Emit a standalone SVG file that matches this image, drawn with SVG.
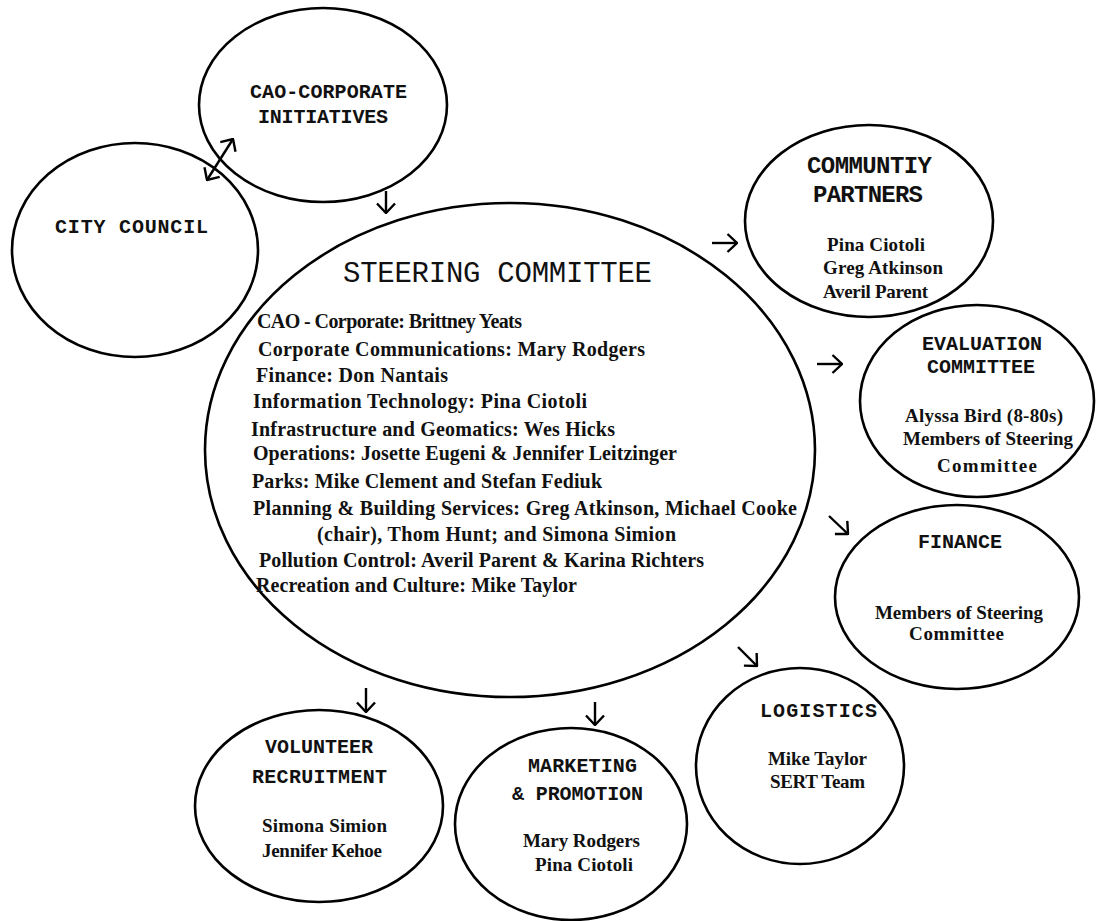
<svg xmlns="http://www.w3.org/2000/svg" width="1098" height="921" viewBox="0 0 1098 921">
<style>
.node ellipse{fill:none;stroke:#000;stroke-width:2.6}
.hd{font-family:"Liberation Mono","DejaVu Sans Mono",monospace;font-weight:bold;font-size:20px;fill:#111;text-anchor:start}
.ttl{font-family:"Liberation Mono","DejaVu Sans Mono",monospace;font-size:29px;fill:#111}
.bd{font-family:"Liberation Serif","DejaVu Serif",serif;font-weight:bold;font-size:19px;fill:#111}
.st{font-family:"Liberation Serif","DejaVu Serif",serif;font-weight:bold;font-size:20px;fill:#111}
.conn line{stroke:#000;stroke-width:2.4;fill:none}
</style>
<defs>
<marker id="ah" viewBox="0 0 12 20" refX="11" refY="10" markerWidth="12" markerHeight="20" markerUnits="userSpaceOnUse" orient="auto-start-reverse">
<path d="M1.5,1 L11,10 L1.5,19" fill="none" stroke="#000" stroke-width="2.4"/>
</marker>
</defs>
<rect width="1098" height="921" fill="#fff"/>

<g id="cao" class="node">
<ellipse cx="323" cy="105" rx="124" ry="97"/>
<text class="hd" x="250" y="98" textLength="157">CAO-CORPORATE</text>
<text class="hd" x="258" y="123" textLength="130">INITIATIVES</text>
</g>

<g id="city-council" class="node">
<ellipse cx="135" cy="250" rx="123" ry="107"/>
<text class="hd" x="55" y="233" textLength="153">CITY COUNCIL</text>
</g>

<g id="steering" class="node">
<ellipse cx="510" cy="450" rx="305" ry="247"/>
<text class="ttl" x="343" y="282" textLength="309">STEERING COMMITTEE</text>
<text class="st" x="257" y="328" textLength="265">CAO - Corporate: Brittney Yeats</text>
<text class="st" x="258" y="356" textLength="387">Corporate Communications: Mary Rodgers</text>
<text class="st" x="256" y="382" textLength="192">Finance: Don Nantais</text>
<text class="st" x="253" y="408" textLength="334">Information Technology: Pina Ciotoli</text>
<text class="st" x="251" y="436" textLength="364">Infrastructure and Geomatics: Wes Hicks</text>
<text class="st" x="253" y="460" textLength="424">Operations: Josette Eugeni &amp; Jennifer Leitzinger</text>
<text class="st" x="252" y="488" textLength="350">Parks: Mike Clement and Stefan Fediuk</text>
<text class="st" x="253" y="515" textLength="544">Planning &amp; Building Services: Greg Atkinson, Michael Cooke</text>
<text class="st" x="317" y="541" textLength="359">(chair), Thom Hunt; and Simona Simion</text>
<text class="st" x="259" y="567" textLength="445">Pollution Control: Averil Parent &amp; Karina Richters</text>
<text class="st" x="256" y="592" textLength="321">Recreation and Culture: Mike Taylor</text>
</g>

<g id="community-partners" class="node">
<ellipse cx="869" cy="221" rx="124" ry="96"/>
<text class="hd" x="807" y="173" textLength="125" style="font-size:24px">COMMUNTIY</text>
<text class="hd" x="813" y="202" textLength="110" style="font-size:24px">PARTNERS</text>
<text class="bd" x="827" y="251" textLength="98">Pina Ciotoli</text>
<text class="bd" x="823" y="274" textLength="120">Greg Atkinson</text>
<text class="bd" x="823" y="298" textLength="105">Averil Parent</text>
</g>

<g id="evaluation" class="node">
<ellipse cx="977" cy="401" rx="117" ry="96"/>
<text class="hd" x="922" y="350" textLength="120">EVALUATION</text>
<text class="hd" x="927" y="373" textLength="108">COMMITTEE</text>
<text class="bd" x="905" y="422" textLength="158">Alyssa Bird (8-80s)</text>
<text class="bd" x="903" y="445" textLength="170">Members of Steering</text>
<text class="bd" x="937" y="472" textLength="100">Committee</text>
</g>

<g id="finance" class="node">
<ellipse cx="957" cy="597" rx="122" ry="92"/>
<text class="hd" x="918" y="548" textLength="84">FINANCE</text>
<text class="bd" x="875" y="619" textLength="168">Members of Steering</text>
<text class="bd" x="909" y="640" textLength="95">Committee</text>
</g>

<g id="logistics" class="node">
<ellipse cx="800" cy="766" rx="104" ry="98"/>
<text class="hd" x="760" y="717" textLength="117">LOGISTICS</text>
<text class="bd" x="768" y="765" textLength="99">Mike Taylor</text>
<text class="bd" x="770" y="788" textLength="95">SERT Team</text>
</g>

<g id="volunteer" class="node">
<ellipse cx="319" cy="806" rx="124" ry="96"/>
<text class="hd" x="265" y="753" textLength="108">VOLUNTEER</text>
<text class="hd" x="252" y="783" textLength="135">RECRUITMENT</text>
<text class="bd" x="262" y="832" textLength="125">Simona Simion</text>
<text class="bd" x="262" y="857" textLength="120">Jennifer Kehoe</text>
</g>

<g id="marketing" class="node">
<ellipse cx="571" cy="824" rx="116" ry="96"/>
<text class="hd" x="528" y="772" textLength="109">MARKETING</text>
<text class="hd" x="512" y="800" textLength="131">&amp; PROMOTION</text>
<text class="bd" x="523" y="847" textLength="117">Mary Rodgers</text>
<text class="bd" x="535" y="871" textLength="98">Pina Ciotoli</text>
</g>

<g id="connectors" class="conn">
<line x1="207" y1="180" x2="233" y2="139" marker-start="url(#ah)" marker-end="url(#ah)"/>
<line x1="386" y1="191" x2="386" y2="213" marker-end="url(#ah)"/>
<line x1="712" y1="243" x2="737" y2="243" marker-end="url(#ah)"/>
<line x1="817" y1="364" x2="842" y2="364" marker-end="url(#ah)"/>
<line x1="829" y1="516" x2="848" y2="534" marker-end="url(#ah)"/>
<line x1="738" y1="647" x2="757" y2="666" marker-end="url(#ah)"/>
<line x1="366" y1="688" x2="366" y2="712" marker-end="url(#ah)"/>
<line x1="595" y1="702" x2="595" y2="725" marker-end="url(#ah)"/>
</g>
</svg>
